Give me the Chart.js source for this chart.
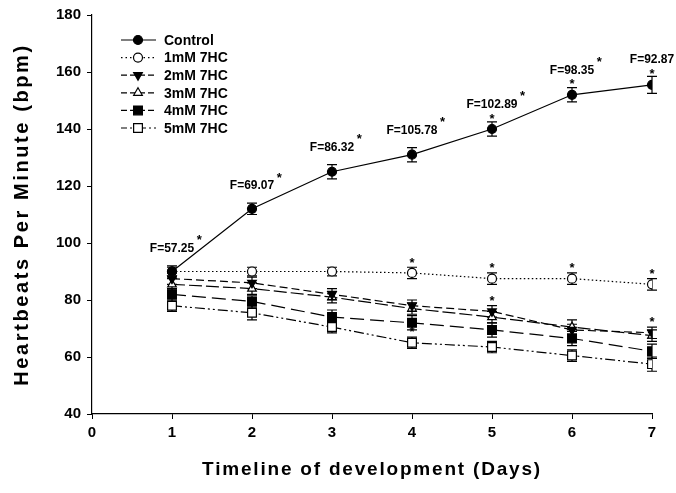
<!DOCTYPE html>
<html>
<head>
<meta charset="utf-8">
<script src="https://cdn.jsdelivr.net/npm/chart.js@4.4.1/dist/chart.umd.min.js"></script>
<style>
  html, body { margin: 0; padding: 0; background: #fff; }
</style>
</head>
<body>
<canvas id="myChart" width="676" height="493"></canvas>
<script>
// data
const days = [1, 2, 3, 4, 5, 6, 7];
const seriesNames = ['Control', '1mM 7HC', '2mM 7HC', '3mM 7HC', '4mM 7HC', '5mM 7HC'];
const control = [90, 112, 125, 131, 140, 152, 155.5];
const controlErr = [2, 2, 2.5, 2.5, 2.5, 2.5, 3];
const mm1 = [90, 90, 90, 89.5, 87.5, 87.5, 85.5];
const mm1Err = [1.5, 1.5, 1.5, 2, 2, 2, 2];
const mm2 = [87.5, 86, 82, 78, 76, 69.5, 68.5];
const mm2Err = [2, 2, 2, 2, 2, 2, 2];
const mm3 = [85.5, 84, 81, 77, 74, 70.5, 67.5];
const mm3Err = [2, 2, 2, 2, 2, 2.5, 2];
const mm4 = [82, 79.5, 74, 72, 69.5, 66.5, 62];
const mm4Err = [2, 2, 2.5, 2.5, 2.5, 2.5, 2.5];
const mm5 = [78, 75.5, 70.5, 65, 63.5, 60.5, 57.5];
const mm5Err = [2, 2.5, 2, 2, 2, 2, 2.5];
const fStats = ['F=57.25', 'F=69.07', 'F=86.32', 'F=105.78', 'F=102.89', 'F=98.35', 'F=92.87'];
// extra significance stars: series index + day
const starSeries = [0, 0, 0, 1, 1, 1, 1, 2, 2, 5];
const starDays = [5, 6, 7, 4, 5, 6, 7, 5, 7, 4];
const xTitle = 'Timeline of development (Days)';
const yTitle = 'Heartbeats Per Minute (bpm)';

const allValues = [control, mm1, mm2, mm3, mm4, mm5];
const allErrs = [controlErr, mm1Err, mm2Err, mm3Err, mm4Err, mm5Err];

const FONT = "'Liberation Sans', Arial, sans-serif";

const styles = [
  { pointStyle: 'circle', radius: 4.5, rotation: 0, fill: '#000', dash: [] },
  { pointStyle: 'circle', radius: 4.5, rotation: 0, fill: '#fff', dash: [1.5, 2.5] },
  { pointStyle: 'triangle', radius: 5, rotation: 180, fill: '#000', dash: [8, 4] },
  { pointStyle: 'triangle', radius: 5, rotation: 0, fill: '#fff', dash: [13, 4] },
  { pointStyle: 'rect', radius: 6.2, rotation: 0, fill: '#000', dash: [14, 6] },
  { pointStyle: 'rect', radius: 6.2, rotation: 0, fill: '#fff', dash: [10, 3, 2, 3, 2, 3] }
];

const datasets = allValues.map((vals, k) => ({
  label: seriesNames[k],
  data: days.map((d, i) => ({ x: d, y: vals[i] })),
  borderColor: '#000',
  borderWidth: 1.2,
  borderDash: styles[k].dash,
  pointStyle: styles[k].pointStyle,
  pointRotation: styles[k].rotation,
  pointRadius: styles[k].radius,
  pointBackgroundColor: styles[k].fill,
  pointBorderColor: '#000',
  pointBorderWidth: 1.2,
  tension: 0,
  fill: false
}));

const extras = {
  id: 'extras',
  beforeDatasetsDraw(chart) {
    const { ctx, scales: { x, y } } = chart;
    ctx.save();
    ctx.strokeStyle = '#000';
    ctx.lineWidth = 1.2;
    allValues.forEach((vals, k) => {
      days.forEach((d, i) => {
        const px = x.getPixelForValue(d);
        const top = y.getPixelForValue(vals[i] + allErrs[k][i]);
        const bot = y.getPixelForValue(vals[i] - allErrs[k][i]);
        ctx.beginPath();
        ctx.moveTo(px, top); ctx.lineTo(px, bot);
        ctx.moveTo(px - 5, top); ctx.lineTo(px + 5, top);
        ctx.moveTo(px - 5, bot); ctx.lineTo(px + 5, bot);
        ctx.stroke();
      });
    });
    ctx.restore();
  },
  afterDatasetsDraw(chart) {
    const { ctx, scales: { x, y } } = chart;
    ctx.save();
    ctx.fillStyle = '#000';
    // F statistics over control
    ctx.textAlign = 'center';
    ctx.textBaseline = 'middle';
    fStats.forEach((txt, i) => {
      const px = x.getPixelForValue(days[i]);
      const py = y.getPixelForValue(control[i] + controlErr[i]) - 17;
      ctx.font = 'bold 12px ' + FONT;
      ctx.fillText(txt, px, py);
      const w = ctx.measureText(txt).width;
      ctx.font = 'bold 13px ' + FONT;
      ctx.fillText('*', px + w / 2 + 5, py - 8);
    });
    // stars over single points
    ctx.font = 'bold 13px ' + FONT;
    starSeries.forEach((s, j) => {
      const i = days.indexOf(starDays[j]);
      ctx.fillText('*', x.getPixelForValue(starDays[j]), y.getPixelForValue(allValues[s][i]) - 10);
    });
    // legend
    ctx.font = 'bold 14px ' + FONT;
    ctx.textAlign = 'left';
    styles.forEach((st, k) => {
      const ly = 40 + k * 17.6;
      ctx.strokeStyle = '#000';
      ctx.lineWidth = 1.2;
      ctx.setLineDash(st.dash.length ? [Math.min(st.dash[0], 6), 3].concat(st.dash.slice(2)) : []);
      ctx.beginPath();
      ctx.moveTo(121, ly); ctx.lineTo(156, ly);
      ctx.stroke();
      ctx.setLineDash([]);
      ctx.fillStyle = st.fill;
      Chart.helpers.drawPoint(ctx, { pointStyle: st.pointStyle, radius: st.radius, rotation: st.rotation, borderWidth: 1.2 }, 138, ly);
      ctx.fillStyle = '#000';
      ctx.fillText(seriesNames[k], 164, ly + 1);
    });
    ctx.restore();
  },
  afterDraw(chart) {
    const { ctx, chartArea } = chart;
    ctx.save();
    ctx.fillStyle = '#000';
    ctx.textAlign = 'center';
    ctx.textBaseline = 'middle';
    ctx.font = 'bold 19px ' + FONT;
    ctx.letterSpacing = '1.8px';
    ctx.fillText(xTitle, (chartArea.left + chartArea.right) / 2, 470);
    ctx.font = 'bold 20px ' + FONT;
    ctx.letterSpacing = '2.6px';
    ctx.translate(22, (chartArea.top + chartArea.bottom) / 2);
    ctx.rotate(-Math.PI / 2);
    ctx.fillText(yTitle, 0, 0);
    ctx.restore();
  }
};

const ctx = document.getElementById('myChart').getContext('2d');
const myChart = new Chart(ctx, {
  type: 'line',
  data: { datasets: datasets },
  options: {
    responsive: false,
    animation: false,
    layout: { padding: { top: 14, right: 24, left: 0, bottom: 0 } },
    plugins: { legend: { display: false }, tooltip: { enabled: false } },
    scales: {
      x: {
        type: 'linear', min: 0, max: 7,
        ticks: { stepSize: 1, color: '#000', padding: 5, font: { family: FONT, size: 15, weight: 'bold' } },
        grid: { drawOnChartArea: false, color: '#000', tickLength: 5 },
        border: { color: '#000', width: 1.2 },
        afterFit: (s) => { s.height = 79; }
      },
      y: {
        min: 40, max: 180,
        ticks: { stepSize: 20, color: '#000', padding: 6, font: { family: FONT, size: 15, weight: 'bold' } },
        grid: { drawOnChartArea: false, color: '#000', tickLength: 5 },
        border: { color: '#000', width: 1.2 },
        afterFit: (s) => { s.width = 92; }
      }
    }
  },
  plugins: [extras]
});
</script>
</body>
</html>
